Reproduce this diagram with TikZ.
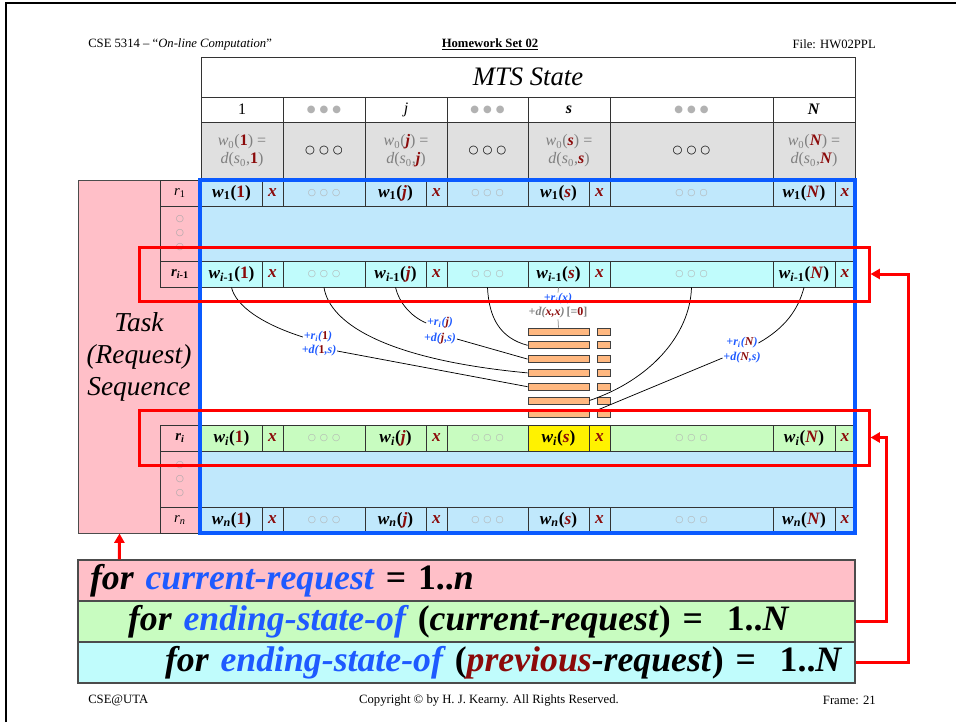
\documentclass[tikz,border=0pt]{standalone}
\usepackage{fontspec}
\setmainfont{Liberation Serif}
\newfontfamily\dotfont{DejaVu Sans}
\usetikzlibrary{arrows.meta}

\definecolor{pinkFill}{HTML}{FFBFC8}
\definecolor{skyFill}{HTML}{C0E8FC}
\definecolor{cyanFill}{HTML}{C0FCFC}
\definecolor{mintFill}{HTML}{C8FCC0}
\definecolor{initGray}{HTML}{E0E0E0}
\definecolor{peach}{HTML}{FFB880}
\definecolor{frameBlue}{HTML}{0A5AFF}
\definecolor{textBlue}{HTML}{1E5AFF}
\definecolor{stateRed}{HTML}{8B0A0A}

\newdimen\px \px=0.75pt

% cell contents
\newcommand{\redv}[1]{\textcolor{stateRed}{#1}}
\newcommand{\wof}[2]{\textbf{\textit{w}\textsubscript{#1}(\redv{#2})}}
\newcommand{\wzero}[1]{\textit{w}\textsubscript{0}(\redv{\textbf{#1}}) =\\\textit{d}(\textit{s}\textsubscript{0},\redv{\textbf{#1}})}
\newcommand{\xv}{\textcolor{stateRed}{\textbf{\textit{x}}}}
\newcommand{\ooo}{{\dotfont\fontsize{7}{7}\selectfont\textcolor{black!30}{○\hspace{3pt}○\hspace{3pt}○}}}
\newcommand{\bigooo}{{\dotfont\fontsize{8.5}{8.5}\selectfont ○\hspace{3pt}○\hspace{3pt}○}}
\newcommand{\graydots}{{\dotfont\fontsize{7.5}{7.5}\selectfont\textcolor{black!30}{●\hspace{3pt}●\hspace{3pt}●}}}

\begin{document}
\begin{tikzpicture}[x=0.75pt, y=-0.75pt]
    % Define styles
    \tikzstyle{cell}=[draw=black!80, line width=0.75pt, inner sep=0pt, minimum height=26\px, font=\fontsize{13}{14}\selectfont]
    \tikzstyle{wcell}=[cell, minimum width=61\px]
    \tikzstyle{xcell}=[cell, minimum width=21\px]
    \tikzstyle{headcell}=[cell, fill=white, minimum height=25\px, font=\fontsize{12}{13}\selectfont]
    \tikzstyle{initcell}=[cell, fill=initGray, minimum height=58\px, align=center, text=black!50, font=\fontsize{12}{13.5}\selectfont]
    \tikzstyle{rcell}=[cell, fill=pinkFill, minimum width=40\px, font=\fontsize{11}{12}\selectfont]
    \tikzstyle{vdots}=[align=center, inner sep=0pt, text=black!35, font=\dotfont\fontsize{7}{10.5}\selectfont]
    \tikzstyle{stackbox}=[draw=black!75, line width=0.6pt, fill=peach, inner sep=0pt, minimum width=61\px, minimum height=7\px]
    \tikzstyle{tickbox}=[stackbox, minimum width=13\px]
    \tikzstyle{wire}=[draw=black, line width=0.55pt]
    \tikzstyle{cost}=[inner sep=0.5pt, text=textBlue, font=\fontsize{9}{10}\selectfont\bfseries\itshape]
    \tikzstyle{redframe}=[draw=red, line width=2.25pt, inner sep=0pt, minimum width=730\px]
    \tikzstyle{redarrow}=[draw=red, line width=2.25pt, -{Triangle[length=7pt, width=7.5pt]}]
    \tikzstyle{loopbox}=[draw=black!70, line width=1.1pt, inner xsep=12\px, inner ysep=0pt, text width=753\px, minimum height=41\px, align=left, font=\fontsize{26.8}{28}\selectfont\bfseries\itshape]
    \tikzstyle{pagetext}=[inner sep=0pt, font=\fontsize{9.5}{11}\selectfont]

    \useasboundingbox (0,0) rectangle (956,722);
    \draw[line width=1.9pt] (6,722) -- (6,3) -- (956,3);

    % Page header and footer
    \node[pagetext, anchor=west] (course) at (88,44) {CSE 5314 -- “\textit{On-line Computation}”};
    \node[pagetext, font=\fontsize{9.5}{11}\selectfont\bfseries] (hwset) at (490,44) {\underline{Homework Set 02}};
    \node[pagetext, anchor=east] (fileid) at (876,44) {File: HW02PPL};
    \node[pagetext, anchor=west] (site) at (88,700) {CSE@UTA};
    \node[pagetext] (copyline) at (489,700) {Copyright © by H. J. Kearny. All Rights Reserved.};
    \node[pagetext, anchor=east] (frameno) at (876,700) {Frame: 21};

    % MTS state header
    \node[cell, minimum width=654\px, minimum height=40\px, font=\fontsize{20}{22}\selectfont\itshape] (mtstitle) at (528,77) {MTS State};
    \node[headcell, minimum width=82\px] (h1) at (242,109.5) {1};
    \node[headcell, minimum width=82\px] (hdotsA) at (324,109.5) {\graydots};
    \node[headcell, minimum width=82\px] (hj) at (406,109.5) {\textit{j}};
    \node[headcell, minimum width=81\px] (hdotsB) at (487.5,109.5) {\graydots};
    \node[headcell, minimum width=82\px] (hs) at (569,109.5) {\textbf{\textit{s}}};
    \node[headcell, minimum width=163\px] (hdotsC) at (691.5,109.5) {\graydots};
    \node[headcell, minimum width=82\px] (hN) at (814,109.5) {\textbf{\textit{N}}};

    % Row 0: initial work function
    \node[initcell, minimum width=82\px] (w01) at (242,151) {\wzero{1}};
    \node[initcell, minimum width=82\px, text=black] (w0dotsA) at (324,151) {\bigooo};
    \node[initcell, minimum width=82\px] (w0j) at (406,151) {\wzero{\textit{j}}};
    \node[initcell, minimum width=81\px, text=black] (w0dotsB) at (487.5,151) {\bigooo};
    \node[initcell, minimum width=82\px] (w0s) at (569,151) {\wzero{\textit{s}}};
    \node[initcell, minimum width=163\px, text=black] (w0dotsC) at (691.5,151) {\bigooo};
    \node[initcell, minimum width=82\px] (w0N) at (814,151) {\wzero{\textit{N}}};

    % Request sequence column
    \node[draw=black!70, line width=0.75pt, fill=pinkFill, minimum width=122\px, minimum height=353\px, inner sep=0pt, align=center, font=\fontsize{20.5}{24}\selectfont\itshape] (taskbox) at (139,356.5) {Task\\(Request)\\Sequence};
    \fill[skyFill] (200,206) rectangle (855,261);
    \fill[skyFill] (200,451) rectangle (855,507);

    \node[rcell] (r1lab) at (180,193) {\textit{r}\textsubscript{1}};
    \node[rcell, minimum height=55\px] (r1dots) at (180,233.5) {};
    \node[vdots] (r1dotsmark) at (r1dots) {○\\○\\○};
    \node[rcell] (rplab) at (180,274) {\textbf{\textit{r}\textsubscript{\textit{i}-1}}};
    \node[rcell] (rclab) at (180,438) {\textbf{\textit{r}\textsubscript{\textit{i}}}};
    \node[rcell, minimum height=56\px] (rcdots) at (180,479) {};
    \node[vdots] (rcdotsmark) at (rcdots) {○\\○\\○};
    \node[rcell] (rnlab) at (180,520) {\textit{r}\textsubscript{\textit{n}}};

    % Row r_1
    \node[wcell, fill=skyFill] (wa1) at (231.5,193) {\wof{1}{1}};
    \node[xcell, fill=skyFill] (xa1) at (272.5,193) {\xv};
    \node[cell, fill=skyFill, minimum width=82\px] (oa1) at (324,193) {\ooo};
    \node[wcell, fill=skyFill] (waj) at (395.5,193) {\wof{1}{\textit{j}}};
    \node[xcell, fill=skyFill] (xaj) at (436.5,193) {\xv};
    \node[cell, fill=skyFill, minimum width=81\px] (oa2) at (487.5,193) {\ooo};
    \node[wcell, fill=skyFill] (was) at (558.5,193) {\wof{1}{\textit{s}}};
    \node[xcell, fill=skyFill] (xas) at (599.5,193) {\xv};
    \node[cell, fill=skyFill, minimum width=163\px] (oa3) at (691.5,193) {\ooo};
    \node[wcell, fill=skyFill, minimum width=62\px] (waN) at (804,193) {\wof{1}{\textit{N}}};
    \node[xcell, fill=skyFill, minimum width=20\px] (xaN) at (845,193) {\xv};

    % Row r_{i-1}
    \node[wcell, fill=cyanFill] (wp1) at (231.5,274) {\wof{\textit{i}-1}{1}};
    \node[xcell, fill=cyanFill] (xp1) at (272.5,274) {\xv};
    \node[cell, fill=cyanFill, minimum width=82\px] (op1) at (324,274) {\ooo};
    \node[wcell, fill=cyanFill] (wpj) at (395.5,274) {\wof{\textit{i}-1}{\textit{j}}};
    \node[xcell, fill=cyanFill] (xpj) at (436.5,274) {\xv};
    \node[cell, fill=cyanFill, minimum width=81\px] (op2) at (487.5,274) {\ooo};
    \node[wcell, fill=cyanFill] (wps) at (558.5,274) {\wof{\textit{i}-1}{\textit{s}}};
    \node[xcell, fill=cyanFill] (xps) at (599.5,274) {\xv};
    \node[cell, fill=cyanFill, minimum width=163\px] (op3) at (691.5,274) {\ooo};
    \node[wcell, fill=cyanFill, minimum width=62\px] (wpN) at (804,274) {\wof{\textit{i}-1}{\textit{N}}};
    \node[xcell, fill=cyanFill, minimum width=20\px] (xpN) at (845,274) {\xv};

    % Row r_i
    \node[wcell, fill=mintFill] (wc1) at (231.5,438) {\wof{\textit{i}}{1}};
    \node[xcell, fill=mintFill] (xc1) at (272.5,438) {\xv};
    \node[cell, fill=mintFill, minimum width=82\px] (oc1) at (324,438) {\ooo};
    \node[wcell, fill=mintFill] (wcj) at (395.5,438) {\wof{\textit{i}}{\textit{j}}};
    \node[xcell, fill=mintFill] (xcj) at (436.5,438) {\xv};
    \node[cell, fill=mintFill, minimum width=81\px] (oc2) at (487.5,438) {\ooo};
    \node[wcell, fill=yellow] (wcs) at (558.5,438) {\wof{\textit{i}}{\textit{s}}};
    \node[xcell, fill=yellow] (xcs) at (599.5,438) {\xv};
    \node[cell, fill=mintFill, minimum width=163\px] (oc3) at (691.5,438) {\ooo};
    \node[wcell, fill=mintFill, minimum width=62\px] (wcN) at (804,438) {\wof{\textit{i}}{\textit{N}}};
    \node[xcell, fill=mintFill, minimum width=20\px] (xcN) at (845,438) {\xv};

    % Row r_n
    \node[wcell, fill=skyFill] (wn1) at (231.5,520) {\wof{\textit{n}}{1}};
    \node[xcell, fill=skyFill] (xn1) at (272.5,520) {\xv};
    \node[cell, fill=skyFill, minimum width=82\px] (on1) at (324,520) {\ooo};
    \node[wcell, fill=skyFill] (wnj) at (395.5,520) {\wof{\textit{n}}{\textit{j}}};
    \node[xcell, fill=skyFill] (xnj) at (436.5,520) {\xv};
    \node[cell, fill=skyFill, minimum width=81\px] (on2) at (487.5,520) {\ooo};
    \node[wcell, fill=skyFill] (wns) at (558.5,520) {\wof{\textit{n}}{\textit{s}}};
    \node[xcell, fill=skyFill] (xns) at (599.5,520) {\xv};
    \node[cell, fill=skyFill, minimum width=163\px] (on3) at (691.5,520) {\ooo};
    \node[wcell, fill=skyFill, minimum width=62\px] (wnN) at (804,520) {\wof{\textit{n}}{\textit{N}}};
    \node[xcell, fill=skyFill, minimum width=20\px] (xnN) at (845,520) {\xv};

    % Candidate costs stacked under w_i(s)
    \node[stackbox] (stack1) at (558.5,331.5) {};
    \node[stackbox] (stack2) at (558.5,345.3) {};
    \node[stackbox] (stack3) at (558.5,359.1) {};
    \node[stackbox] (stack4) at (558.5,372.9) {};
    \node[stackbox] (stack5) at (558.5,386.7) {};
    \node[stackbox] (stack6) at (558.5,400.5) {};
    \node[stackbox] (stack7) at (558.5,414.3) {};
    \node[tickbox] (tick1) at (603.5,331.5) {};
    \node[tickbox] (tick2) at (603.5,345.3) {};
    \node[tickbox] (tick3) at (603.5,359.1) {};
    \node[tickbox] (tick4) at (603.5,372.9) {};
    \node[tickbox] (tick5) at (603.5,386.7) {};
    \node[tickbox] (tick6) at (603.5,400.5) {};
    \node[tickbox] (tick7) at (603.5,414.3) {};

    % Cost labels
    \node[cost] (lr1) at (318,337) {+r\textsubscript{i}(\redv{\textup{1}})};
    \node[cost] (ld1) at (319,351) {+d(\redv{\textup{1}},s)};
    \node[cost] (lrj) at (440,323) {+r\textsubscript{i}(\redv{j})};
    \node[cost] (ldj) at (440,339) {+d(\redv{j},s)};
    \node[cost] (lsr) at (558,299) {+r\textsubscript{i}(x)};
    \node[cost, text=black!50] (lsd) at (558,313) {+d(\redv{x,x})\,\textup{[=\redv{\textbf{0}}]}};
    \node[cost] (lrN) at (742,343) {+r\textsubscript{i}(\redv{N})};
    \node[cost] (ldN) at (742,358) {+d(\redv{N},s)};

    % Transitions from row r_{i-1} into the stack
    \draw[wire] (wp1.south) .. controls (236,306) and (262,324) .. (lr1.west);
    \draw[wire] (ld1.east) -- (stack5.west);
    \draw[wire] (op1.south) .. controls (330,325) and (390,360) .. (stack4.west);
    \draw[wire] (wpj.south) .. controls (399,302) and (410,316) .. (lrj.west);
    \draw[wire] (ldj.east) -- (stack3.west);
    \draw[wire] (op2.south) .. controls (489,318) and (500,338) .. (stack2.west);
    \draw[wire, draw=black!45] (wps.south) -- (lsr.north);
    \draw[wire, draw=black!45] (lsd.south) -- (stack1.north);
    \draw[wire] (op3.south) .. controls (690,335) and (650,380) .. (stack6.east);
    \draw[wire] (wpN.south) .. controls (798,310) and (785,328) .. (lrN.east);
    \draw[wire] (ldN.west) -- (tick7.north west);

    % Frames
    \draw[draw=frameBlue, line width=3pt] (200,180) rectangle (855,533);
    \node[redframe, minimum height=54\px] (prevframe) at (504,274) {};
    \node[redframe, minimum height=55\px] (curframe) at (504,437.5) {};

    % Nested loops
    \node[loopbox, fill=pinkFill] (loopA) at (466.5,580.5) {\mbox{for \textcolor{textBlue}{current-request} \textup{= 1..}n}};
    \node[loopbox, fill=mintFill] (loopB) at (466.5,621.5) {\mbox{\hspace*{38\px}for \textcolor{textBlue}{ending-state-of} \textup{(}current-request\textup{) =~ 1..}N}};
    \node[loopbox, fill=cyanFill] (loopC) at (466.5,662.5) {\mbox{\hspace*{75\px}for \textcolor{textBlue}{ending-state-of} \textup{(}\textcolor{stateRed}{previous}-request\textup{) =~ 1..}N}};

    \draw[redarrow] ([xshift=42\px]loopA.north west) -- ([xshift=42\px]taskbox.south west);
    \draw[redarrow] (loopB.east) -- ++(31,0) |- (curframe.east);
    \draw[redarrow] (loopC.east) -- ++(53,0) |- (prevframe.east);
\end{tikzpicture}
\end{document}
